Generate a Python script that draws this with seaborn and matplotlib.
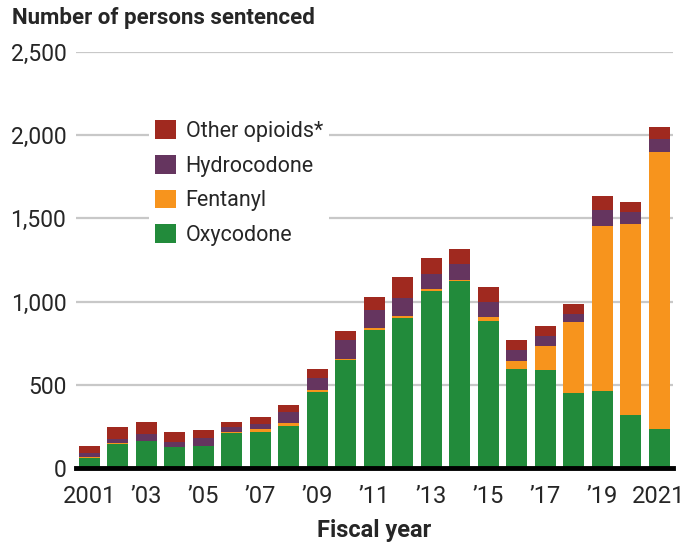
import matplotlib
matplotlib.use("Agg")
import matplotlib.pyplot as plt
from matplotlib.patches import Patch
from matplotlib.ticker import FuncFormatter
import seaborn as sns
import pandas as pd
import numpy as np

# === Data ===
years = [str(y) for y in range(2001, 2022)]
oxycodone = [62, 146, 162, 124, 130, 210, 216, 252, 456, 648, 832, 904, 1066, 1126, 886, 592, 586, 448, 460, 316, 232]
fentanyl = [2, 3, 0, 0, 5, 6, 16, 16, 12, 6, 12, 12, 12, 6, 24, 54, 150, 432, 996, 1152, 1668]
hydrocodone = [26, 23, 42, 32, 45, 28, 32, 70, 72, 114, 108, 108, 86, 96, 90, 62, 60, 48, 92, 68, 80]
other_opioids = [40, 72, 70, 58, 46, 30, 40, 38, 52, 58, 78, 126, 100, 90, 90, 64, 60, 60, 88, 64, 70]

tick_labels = ["2001", "\u201903", "\u201905", "\u201907", "\u201909", "\u201911",
               "\u201913", "\u201915", "\u201917", "\u201919", "2021"]

series = ["Other opioids*", "Hydrocodone", "Fentanyl", "Oxycodone"]
colors = {"Other opioids*": "#A0291F", "Hydrocodone": "#65355F",
          "Fentanyl": "#F7941D", "Oxycodone": "#228B3B"}

df = pd.DataFrame({"year": years, "Oxycodone": oxycodone, "Fentanyl": fentanyl,
                   "Hydrocodone": hydrocodone, "Other opioids*": other_opioids})
# cumulative heights, drawn top layer first so lower layers paint over
df["cum_Oxycodone"] = df["Oxycodone"]
df["cum_Fentanyl"] = df["cum_Oxycodone"] + df["Fentanyl"]
df["cum_Hydrocodone"] = df["cum_Fentanyl"] + df["Hydrocodone"]
df["cum_Other opioids*"] = df["cum_Hydrocodone"] + df["Other opioids*"]

sns.set_style("white")
plt.rcParams["font.family"] = ["Roboto", "DejaVu Sans"]
plt.rcParams["font.stretch"] = "condensed"

fig = plt.figure(figsize=(6.95, 5.48), dpi=100)
ax = fig.add_axes([76 / 695, 1 - 468 / 548, 597 / 695, 416 / 548])

for name in series:
    sns.barplot(data=df, x="year", y="cum_" + name, order=years, color=colors[name],
                width=0.74, linewidth=0, saturation=1, ax=ax, zorder=2)

ax.set_xlim(-0.47, 20.49)
ax.set_ylim(0, 2500)
ax.set_yticks(np.arange(0, 2501, 500))
ax.yaxis.set_major_formatter(FuncFormatter(lambda v, p: f"{int(v):,}"))
ax.yaxis.grid(True, color="#c8c8c8", linewidth=1.6, zorder=0)
ax.set_axisbelow(True)
ax.tick_params(axis="y", length=0, labelsize=16.5, pad=7)

ax.set_xticks(range(0, 21, 2))
ax.set_xticklabels(tick_labels)
ax.tick_params(axis="x", length=6, width=3, color="black", labelsize=17, pad=6)

for side in ["top", "right", "left"]:
    ax.spines[side].set_visible(False)
ax.spines["bottom"].set_linewidth(3.5)
ax.spines["bottom"].set_color("black")

ax.set_ylabel("")
ax.set_xlabel("Fiscal year", fontsize=17, fontweight="bold", labelpad=8)
fig.text(12 / 695, 1 - 7 / 548, "Number of persons sentenced", fontsize=16,
         fontweight="bold", ha="left", va="top")

handles = [Patch(facecolor=colors[n], edgecolor="none", label=n) for n in series]
leg = ax.legend(handles=handles, loc="upper left", bbox_to_anchor=(149 / 695, 1 - 114 / 548),
                bbox_transform=fig.transFigure, frameon=True, fontsize=15.5,
                handlelength=0.95, handleheight=0.95, handletextpad=0.45,
                labelspacing=0.6, borderpad=0.3, borderaxespad=0)
leg.get_frame().set_facecolor("white")
leg.get_frame().set_edgecolor("none")
leg.get_frame().set_alpha(1)
leg.set_zorder(5)

fig.savefig("out.png", dpi=100)
